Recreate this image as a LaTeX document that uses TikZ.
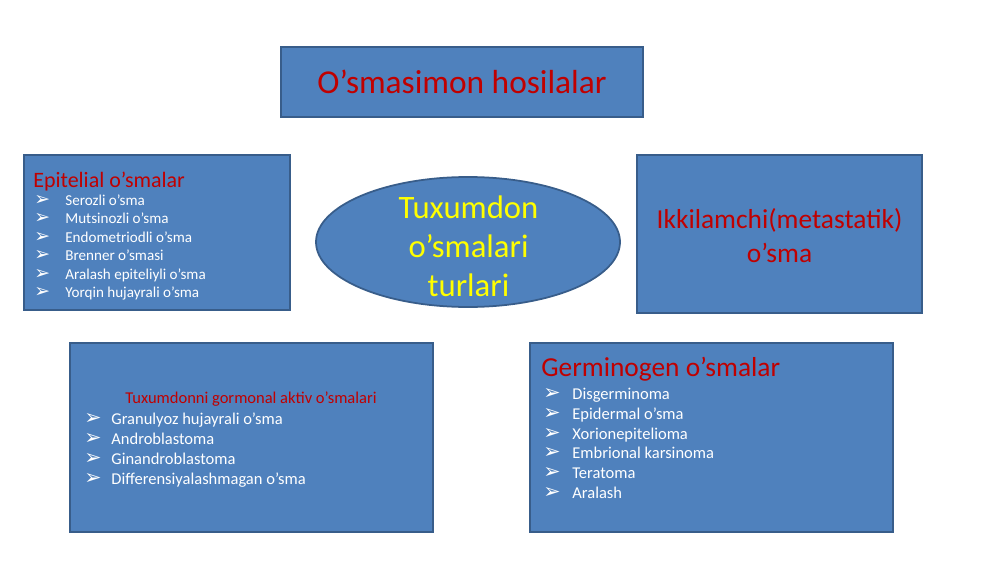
\documentclass[tikz,border=0pt]{standalone}
\usepackage{fontspec}
\setmainfont{Carlito}
\newfontfamily\dejavu{DejaVu Sans}
\usetikzlibrary{positioning}
\usetikzlibrary{shapes.geometric}
\definecolor{boxblue}{HTML}{4F81BD}
\definecolor{boxedge}{HTML}{385D8A}
\definecolor{titlered}{HTML}{C00000}
\definecolor{titleyellow}{HTML}{FFFF00}
\newcommand{\arrowbul}[1]{\makebox[#1][l]{\scalebox{1.25}{\dejavu\char"27A2}}}

\begin{document}
\begin{tikzpicture}[
    box/.style={draw=boxedge, fill=boxblue, line width=1pt, inner sep=0pt},
    item/.style={anchor=base west, inner sep=0pt, text=white},
    head/.style={anchor=base west, inner sep=0pt, text=titlered}
  ]
  \useasboundingbox (0,0) rectangle (20,-11.26);
  \fill[white] (0,0) rectangle (20,-11.26);

  % Title box
  \node[box, minimum width=7.24cm, minimum height=1.4cm, text=titlered,
        font=\fontsize{19}{23}\selectfont] (top) at (9.24,-1.64) {O’smasimon hosilalar};

  % Centre ellipse
  \node[box, ellipse, minimum width=6.08cm, minimum height=2.6cm] (mid) at (9.36,-4.84) {};
  \node[align=center, text=titleyellow, inner sep=0pt,
        font=\fontsize{18.6}{22.2}\selectfont] (midtext) at (9.37,-4.92) {Tuxumdon\\o’smalari\\turlari};

  % Boxes
  \node[box, minimum width=5.32cm, minimum height=3.1cm] (epi) at (3.14,-4.65) {};
  \node[box, minimum width=5.7cm, minimum height=3.16cm] (sec) at (15.59,-4.68) {};
  \node[box, minimum width=7.26cm, minimum height=3.78cm] (gor) at (5.03,-8.75) {};
  \node[box, minimum width=7.26cm, minimum height=3.78cm] (ger) at (14.23,-8.75) {};

  % Epitelial
  \node[head, font=\fontsize{12.5}{15}\selectfont] (epititle) at (0.66,-3.74) {Epitelial o’smalar};
  \foreach \t [count=\i] in {Serozli o’sma, Mutsinozli o’sma, Endometriodli o’sma,
      Brenner o’smasi, Aralash epiteliyli o’sma, Yorqin hujayrali o’sma}
    \node[item, font=\fontsize{8.6}{10}\selectfont] (epi\i) at (0.68,{-4.11-0.368*(\i-1)}) {\arrowbul{0.62cm}\t};

  % Ikkilamchi
  \node[align=center, text=titlered, inner sep=0pt,
        font=\fontsize{15.6}{19.3}\selectfont] (sectext) at (15.59,-4.72) {Ikkilamchi(metastatik)\\o’sma};

  % Gormonal aktiv
  \node[anchor=base, inner sep=0pt, text=titlered, font=\fontsize{9.4}{11}\selectfont] (gortitle) at (5.02,-8.06) {Tuxumdonni gormonal aktiv o’smalari};
  \foreach \t [count=\i] in {Granulyoz hujayrali o’sma, Androblastoma, Ginandroblastoma,
      Differensiyalashmagan o’sma}
    \node[item, font=\fontsize{9.4}{11}\selectfont] (gor\i) at (1.68,{-8.48-0.4*(\i-1)}) {\arrowbul{0.54cm}\t};

  % Germinogen
  \node[head, font=\fontsize{15.6}{19}\selectfont] (gertitle) at (10.82,-7.53) {Germinogen o’smalar};
  \foreach \t [count=\i] in {Disgerminoma, Epidermal o’sma, Xorionepitelioma,
      Embrional karsinoma, Teratoma, Aralash}
    \node[item, font=\fontsize{9.4}{11}\selectfont] (ger\i) at (10.86,{-7.99-0.396*(\i-1)}) {\arrowbul{0.58cm}\t};
\end{tikzpicture}
\end{document}
